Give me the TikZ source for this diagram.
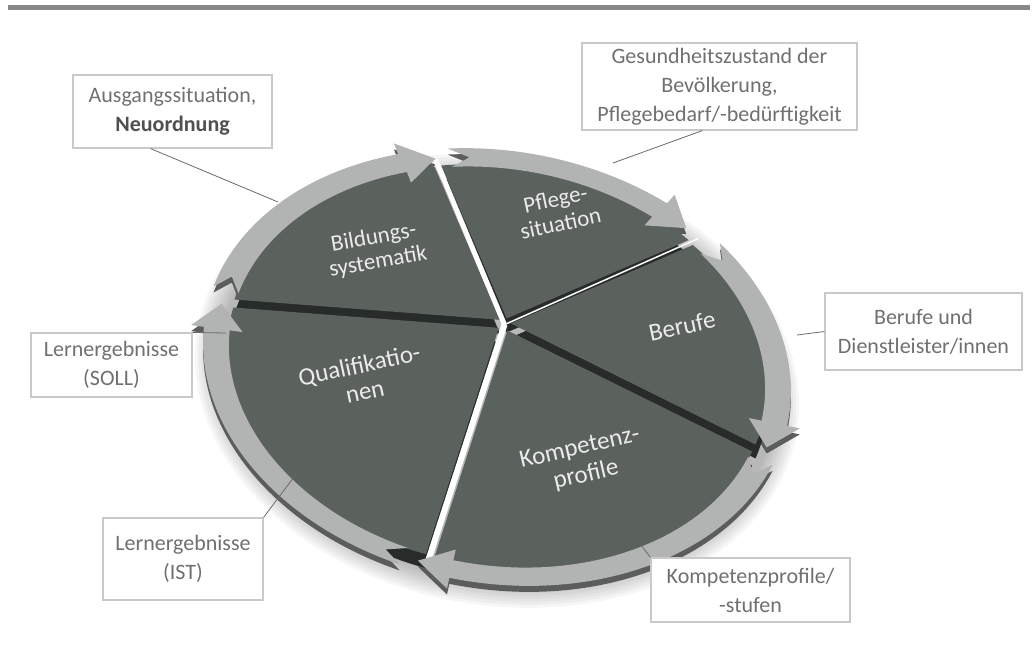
\documentclass[tikz,border=0pt]{standalone}
\usepackage{fontspec}
\setmainfont{Carlito}
\definecolor{segtop}{HTML}{5B615D}
\definecolor{segdark}{HTML}{272B29}
\definecolor{ringcol}{HTML}{B2B4B3}
\definecolor{ringdark}{HTML}{5A5D5B}
\definecolor{boxline}{HTML}{C9C9C9}
\definecolor{boxtext}{HTML}{707070}
\definecolor{boxbold}{HTML}{505050}
\definecolor{leadcol}{HTML}{6A6A6A}
\definecolor{labelcol}{HTML}{EBEBEB}
\definecolor{barcol}{HTML}{888888}

% one slab of the pie: start angle, end angle, style
\newcommand\pieslice[3]{%
  \pgfmathsetmacro\sliceMid{(#1+#2)/2}%
  \fill[#3, shift={(\sliceMid:6.5)}] (0,-43) -- (#1:266 and 194)
    arc[start angle=#1, end angle=#2, x radius=266, y radius=194] -- cycle;}

% one curved arrow of the outer ring: start angle, tip angle, style
\newcommand\ringarrow[3]{%
  \pgfmathsetmacro\arrBase{#2-7}%
  \pgfmathsetmacro\arrNotch{#1+4}%
  \fill[#3] (#1:296 and 216)
    arc[start angle=#1, end angle=\arrBase, x radius=296, y radius=216]
    -- (\arrBase:309 and 227) -- (#2:283 and 207) -- (\arrBase:257 and 187)
    -- (\arrBase:270 and 198)
    arc[start angle=\arrBase, end angle=#1, x radius=270, y radius=198]
    -- (\arrNotch:283 and 207) -- cycle;}

\begin{document}
\begin{tikzpicture}[x=1pt,y=-1pt,
  frame/.style={shift={(497,367)}, rotate=-10},
  slabtop/.style={fill=segtop},
  slabside/.style={fill=segdark},
  ringtop/.style={fill=ringcol},
  ringside/.style={fill=ringdark},
  slabgap/.style={draw=white, line width=5pt},
  infobox/.style={draw=boxline, line width=1.1pt, fill=white, text=boxtext,
    align=center, inner sep=0pt, font=\fontsize{22}{29}\selectfont},
  lead/.style={draw=leadcol, line width=0.8pt},
  seglabel/.style={text=labelcol, align=center, inner sep=0pt}]
\useasboundingbox (0,0) rectangle (1033,651);

% header rule
\fill[barcol] (8,5) rectangle (1030,10);

% soft shadow under the disc
\begin{scope}[shift={(0,14)}]
  \begin{scope}[frame]
    \foreach \k in {0,...,8}
      \fill[black, opacity=0.035] (0,0) ellipse [x radius=304-3*\k, y radius=224-3*\k];
  \end{scope}
\end{scope}

% ring thickness
\begin{scope}[shift={(0,6)}]
  \begin{scope}[frame]
    \ringarrow{188}{250}{ringside}
    \ringarrow{253}{305}{ringside}
    \ringarrow{312}{369}{ringside}
    \ringarrow{13}{99}{ringside}
    \ringarrow{102}{184}{ringside}
  \end{scope}
\end{scope}

% slab thickness
\begin{scope}[shift={(0,14)}]
  \begin{scope}[frame]
    \pieslice{185}{250}{slabside}
    \pieslice{250}{308.5}{slabside}
    \pieslice{308.5}{370}{slabside}
    \pieslice{10}{97}{slabside}
    \pieslice{97}{185}{slabside}
  \end{scope}
\end{scope}

% slab tops and the open joints between them
\begin{scope}[frame]
  \pieslice{185}{250}{slabtop}
  \pieslice{250}{308.5}{slabtop}
  \pieslice{308.5}{370}{slabtop}
  \pieslice{10}{97}{slabtop}
  \pieslice{97}{185}{slabtop}
  \draw[slabgap] (0,-43) -- (250:282 and 206);
  \draw[slabgap, line width=6pt] (0,-43) -- (97:282 and 206);
  \draw[slabgap, line width=1.5pt] (0,-43) -- (308.5:282 and 206);
\end{scope}

% ring tops
\begin{scope}[frame]
  \ringarrow{188}{250}{ringtop}
  \ringarrow{253}{305}{ringtop}
  \ringarrow{312}{369}{ringtop}
  \ringarrow{13}{99}{ringtop}
  \ringarrow{102}{184}{ringtop}
\end{scope}

% slab labels
\node[seglabel, rotate=10, font=\fontsize{23}{25}\selectfont] (lBild) at (376,250) {Bildungs-\\systematik};
\node[seglabel, rotate=12, font=\fontsize{23}{25}\selectfont] (lPfl) at (558,211) {Pflege-\\situation};
\node[seglabel, rotate=12, font=\fontsize{25}{25}\selectfont] (lBer) at (682,326) {Berufe};
\node[seglabel, rotate=12, font=\fontsize{25}{27}\selectfont] (lQual) at (362,378) {Qualifikatio-\\nen};
\node[seglabel, rotate=13, font=\fontsize{25}{28}\selectfont] (lKomp) at (583,462) {Kompetenz-\\profile};

% annotation boxes
\node[infobox, minimum width=199, minimum height=73] (bAus) at (172.5,111.5)
  {Ausgangssituation,\\{\bfseries\color{boxbold}Neuordnung}};
\node[infobox, minimum width=275, minimum height=87] (bGes) at (719.5,86.5)
  {Gesundheitszustand der\\Bevölkerung,\\Pflegebedarf/-bedürftigkeit};
\node[infobox, minimum width=197, minimum height=77] (bBer) at (923.5,331.5)
  {Berufe und\\Dienstleister/innen};
\node[infobox, minimum width=161, minimum height=64] (bSoll) at (111.5,365)
  {Lernergebnisse\\(SOLL)};
\node[infobox, minimum width=160, minimum height=82] (bIst) at (183,559)
  {Lernergebnisse\\(IST)};
\node[infobox, minimum width=199, minimum height=64] (bKomp) at (750.5,590)
  {Kompetenzprofile/\\-stufen};

% where the leader lines touch the ring
\coordinate (rAus) at (278,202);
\coordinate (rGes) at (613,163);
\coordinate (rBer) at (797,335);
\coordinate (rSoll) at (226,333);
\coordinate (rIst) at (297,473);
\coordinate (rKomp) at (641,545);

\draw[lead] ([xshift=-22]bAus.south) -- (rAus);
\draw[lead] ([xshift=-17]bGes.south) -- (rGes);
\draw[lead] (bBer.west) -- (rBer);
\draw[lead] (bSoll.north east) -- (rSoll);
\draw[lead] (bIst.north east) -- (rIst);
\draw[lead] (bKomp.north west) -- (rKomp);
\end{tikzpicture}
\end{document}
